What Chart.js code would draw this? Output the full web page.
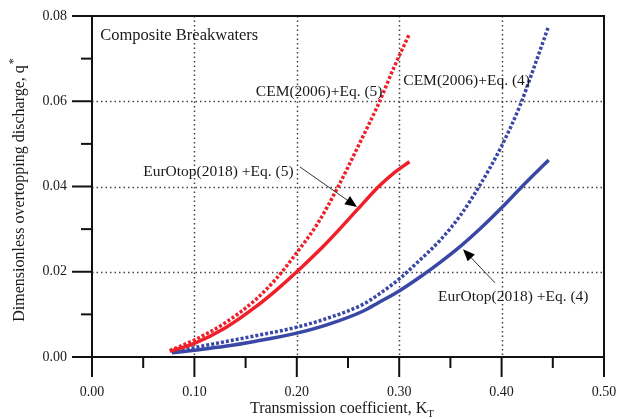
<!DOCTYPE html>
<html>
<head>
<meta charset="utf-8">
<script src="https://cdn.jsdelivr.net/npm/chart.js@4"></script>
<style>
  html, body { margin: 0; padding: 0; background: #fff; }
  canvas { display: block; }
</style>
</head>
<body>
<canvas id="chart_kt" width="629" height="419"></canvas>
<script>
// values
const ktCemEq5 = [0.076, 0.100, 0.130, 0.160, 0.180, 0.200, 0.220, 0.240, 0.260, 0.280, 0.295, 0.310];
const qCemEq5  = [0.0015, 0.0040, 0.0080, 0.0135, 0.0184, 0.0245, 0.0312, 0.0398, 0.0495, 0.0595, 0.0680, 0.0758];

const ktEurEq5 = [0.076, 0.100, 0.130, 0.160, 0.180, 0.200, 0.230, 0.260, 0.280, 0.295, 0.310];
const qEurEq5  = [0.0013, 0.0032, 0.0068, 0.0118, 0.0157, 0.0200, 0.0270, 0.0348, 0.0400, 0.0432, 0.0458];

const ktCemEq4 = [0.078, 0.100, 0.130, 0.160, 0.200, 0.230, 0.265, 0.280, 0.300, 0.320, 0.340, 0.360, 0.380, 0.400, 0.418, 0.431, 0.446];
const qCemEq4  = [0.0012, 0.0022, 0.0036, 0.0050, 0.0070, 0.0091, 0.0124, 0.0147, 0.0183, 0.0227, 0.0274, 0.0333, 0.0408, 0.0495, 0.0590, 0.0675, 0.0777];

const ktEurEq4 = [0.078, 0.100, 0.130, 0.160, 0.200, 0.230, 0.265, 0.280, 0.300, 0.320, 0.340, 0.360, 0.380, 0.400, 0.420, 0.446];
const qEurEq4  = [0.0010, 0.0016, 0.0025, 0.0037, 0.0056, 0.0076, 0.0108, 0.0128, 0.0155, 0.0187, 0.0222, 0.0260, 0.0303, 0.0350, 0.0400, 0.0462];

const xMajor = [0.0, 0.1, 0.2, 0.3, 0.4, 0.5];
const xMinor = [0.05, 0.15, 0.25, 0.35, 0.45];
const yMajor = [0.00, 0.02, 0.04, 0.06, 0.08];
const yMinor = [0.01, 0.03, 0.05, 0.07];

const RED = '#f0202a';
const BLUE = '#3a48a5';
const SERIF = '"Liberation Serif", "DejaVu Serif", serif';

// label text, anchor in data units (left edge, middle)
const notes = [
  { text: 'Composite Breakwaters',  x: 0.008, y: 0.0753, size: 16.5 },
  { text: 'CEM(2006)+Eq. (5)',      x: 0.160, y: 0.0622, size: 15.5 },
  { text: 'CEM(2006)+Eq. (4)',      x: 0.304, y: 0.0648, size: 15.5 },
  { text: 'EurOtop(2018) +Eq. (5)', x: 0.050, y: 0.0434, size: 15.5 },
  { text: 'EurOtop(2018) +Eq. (4)', x: 0.338, y: 0.0141, size: 15.5 }
];
// arrows: tail -> head, data units
const arrows = [
  { x0: 0.203, y0: 0.0446, x1: 0.2588, y1: 0.0352 },
  { x0: 0.3936, y0: 0.0174, x1: 0.3623, y1: 0.0253 }
];

const toPts = (xs, ys) => xs.map((x, i) => ({ x: x, y: ys[i] }));

const figDecor = {
  id: 'figDecor',
  beforeDatasetsDraw(chart) {
    const { ctx, chartArea: a, scales: { x, y } } = chart;
    ctx.save();
    ctx.strokeStyle = '#444';
    ctx.lineWidth = 1.5;
    ctx.setLineDash([1.5, 3]);
    xMajor.slice(1, -1).forEach(v => {
      const px = Math.round(x.getPixelForValue(v)) + 0.5;
      ctx.beginPath(); ctx.moveTo(px, a.top); ctx.lineTo(px, a.bottom); ctx.stroke();
    });
    yMajor.slice(1, -1).forEach(v => {
      const py = Math.round(y.getPixelForValue(v)) + 0.5;
      ctx.beginPath(); ctx.moveTo(a.left, py); ctx.lineTo(a.right, py); ctx.stroke();
    });
    ctx.restore();
  },
  afterDatasetsDraw(chart) {
    const { ctx, chartArea: a, scales: { x, y } } = chart;
    ctx.save();
    ctx.strokeStyle = '#111';
    ctx.lineWidth = 2;
    ctx.lineCap = 'square';
    // frame + axes
    ctx.strokeRect(a.left, a.top, a.right - a.left, a.bottom - a.top);
    // ticks
    xMajor.forEach(v => {
      const px = x.getPixelForValue(v);
      ctx.beginPath(); ctx.moveTo(px, a.bottom); ctx.lineTo(px, a.bottom + 19); ctx.stroke();
    });
    xMinor.forEach(v => {
      const px = x.getPixelForValue(v);
      ctx.beginPath(); ctx.moveTo(px, a.bottom); ctx.lineTo(px, a.bottom + 10); ctx.stroke();
    });
    yMajor.forEach(v => {
      const py = y.getPixelForValue(v);
      ctx.beginPath(); ctx.moveTo(a.left, py); ctx.lineTo(a.left - 19, py); ctx.stroke();
    });
    yMinor.forEach(v => {
      const py = y.getPixelForValue(v);
      ctx.beginPath(); ctx.moveTo(a.left, py); ctx.lineTo(a.left - 10, py); ctx.stroke();
    });

    // tick labels
    ctx.fillStyle = '#1a1a1a';
    ctx.font = '14px ' + SERIF;
    ctx.textBaseline = 'middle';
    ctx.textAlign = 'right';
    yMajor.forEach(v => {
      ctx.fillText(v.toFixed(2), a.left - 25, y.getPixelForValue(v));
    });
    ctx.textAlign = 'center';
    xMajor.forEach(v => {
      ctx.fillText(v.toFixed(2), x.getPixelForValue(v), a.bottom + 35);
    });

    // annotations
    ctx.textAlign = 'left';
    notes.forEach(n => {
      ctx.font = n.size + 'px ' + SERIF;
      ctx.fillText(n.text, x.getPixelForValue(n.x), y.getPixelForValue(n.y));
    });

    ctx.strokeStyle = '#333';
    ctx.lineWidth = 1;
    ctx.lineCap = 'butt';
    arrows.forEach(ar => {
      const x0 = x.getPixelForValue(ar.x0), y0 = y.getPixelForValue(ar.y0);
      const x1 = x.getPixelForValue(ar.x1), y1 = y.getPixelForValue(ar.y1);
      const ang = Math.atan2(y1 - y0, x1 - x0);
      const len = 12, half = 5;
      const bx = x1 - len * Math.cos(ang), by = y1 - len * Math.sin(ang);
      ctx.beginPath(); ctx.moveTo(x0, y0); ctx.lineTo(bx, by); ctx.stroke();
      ctx.fillStyle = '#000';
      ctx.beginPath();
      ctx.moveTo(x1, y1);
      ctx.lineTo(bx - half * Math.sin(ang), by + half * Math.cos(ang));
      ctx.lineTo(bx + half * Math.sin(ang), by - half * Math.cos(ang));
      ctx.closePath();
      ctx.fill();
    });

    // axis titles
    ctx.fillStyle = '#1a1a1a';
    ctx.textAlign = 'left';
    ctx.font = '16px ' + SERIF;
    ctx.textBaseline = 'alphabetic';
    const main = 'Transmission coefficient, K';
    const wMain = ctx.measureText(main).width;
    ctx.font = '11px ' + SERIF;
    const wSub = ctx.measureText('T').width;
    const cx = (a.left + a.right) / 2 - 6;
    const startX = cx - (wMain + wSub) / 2;
    ctx.font = '16px ' + SERIF;
    ctx.fillText(main, startX, 413);
    ctx.font = '11px ' + SERIF;
    ctx.fillText('T', startX + wMain, 417);

    ctx.save();
    ctx.translate(20, (a.top + a.bottom) / 2 + 4);
    ctx.rotate(-Math.PI / 2);
    ctx.font = '16px ' + SERIF;
    ctx.textBaseline = 'middle';
    const yt = 'Dimensionless overtopping discharge, q';
    const wy = ctx.measureText(yt).width;
    ctx.font = '12px ' + SERIF;
    const ws = ctx.measureText('*').width;
    ctx.font = '16px ' + SERIF;
    ctx.fillText(yt, -(wy + ws) / 2, 0);
    ctx.font = '12px ' + SERIF;
    ctx.fillText('*', -(wy + ws) / 2 + wy + 1, -6);
    ctx.restore();

    ctx.restore();
  }
};

const config = {
  type: 'line',
  data: {
    datasets: [
      {
        label: 'CEM(2006)+Eq. (5)',
        data: toPts(ktCemEq5, qCemEq5),
        borderColor: RED,
        borderWidth: 3.5,
        borderDash: [3, 2],
        pointRadius: 0,
        cubicInterpolationMode: 'monotone'
      },
      {
        label: 'EurOtop(2018) +Eq. (5)',
        data: toPts(ktEurEq5, qEurEq5),
        borderColor: RED,
        borderWidth: 3.5,
        pointRadius: 0,
        cubicInterpolationMode: 'monotone'
      },
      {
        label: 'CEM(2006)+Eq. (4)',
        data: toPts(ktCemEq4, qCemEq4),
        borderColor: BLUE,
        borderWidth: 3.5,
        borderDash: [3, 2],
        pointRadius: 0,
        cubicInterpolationMode: 'monotone'
      },
      {
        label: 'EurOtop(2018) +Eq. (4)',
        data: toPts(ktEurEq4, qEurEq4),
        borderColor: BLUE,
        borderWidth: 3.5,
        pointRadius: 0,
        cubicInterpolationMode: 'monotone'
      }
    ]
  },
  options: {
    responsive: false,
    animation: false,
    layout: { padding: { top: 16, right: 25, left: 0, bottom: 0 } },
    plugins: {
      legend: { display: false },
      tooltip: { enabled: false }
    },
    scales: {
      x: {
        type: 'linear',
        min: 0, max: 0.5,
        grid: { display: false, drawTicks: false },
        border: { display: false },
        ticks: { display: false, stepSize: 0.1 },
        afterFit: s => { s.height = 62; }
      },
      y: {
        type: 'linear',
        min: 0, max: 0.08,
        grid: { display: false, drawTicks: false },
        border: { display: false },
        ticks: { display: false, stepSize: 0.02 },
        afterFit: s => { s.width = 92; }
      }
    }
  },
  plugins: [figDecor]
};

const chart_kt = new Chart(document.getElementById('chart_kt'), config);
</script>
</body>
</html>
